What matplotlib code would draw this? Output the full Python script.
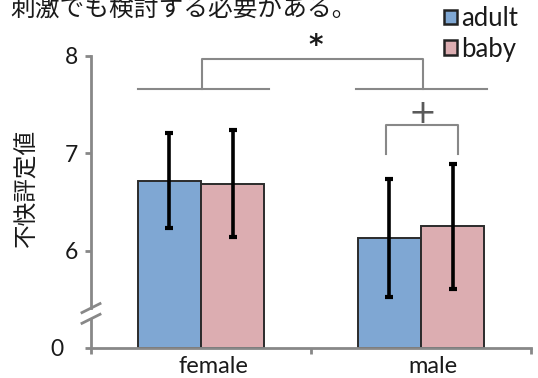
import numpy as np
import matplotlib
matplotlib.use('Agg')
import matplotlib.pyplot as plt
import matplotlib.transforms as mtransforms
from matplotlib.patches import Patch

plt.rcParams['font.family'] = ['Lato', 'Noto Sans CJK JP', 'DejaVu Sans']

# データ
groups = ['female', 'male']
series = ['adult', 'baby']
adult = [6.72, 6.13]
baby = [6.69, 6.25]
adult_err = [0.49, 0.61]
baby_err = [0.55, 0.645]
ytick_vals = [5, 6, 7, 8]
ytick_labels = ['0', '6', '7', '8']
ylabel = '不快評定値'
caption = '刺激でも検討する必要がある。'

floor = 5.0   # 軸の切れ目より下は 0 として表示
bw = 0.287
c_adult = '#7fa7d3'
c_baby = '#dcadb1'
gray = '#888888'
txt = '#1a1a1a'

fig = plt.figure(figsize=(5.38, 3.78), dpi=100)
ax = fig.add_axes([91/538, 30/378, 440/538, 292/378])

x = np.arange(len(groups))
ax.bar(x - bw/2, np.array(adult) - floor, bw, bottom=floor, color=c_adult,
       edgecolor='#2b2b2b', lw=1.4, zorder=2)
ax.bar(x + bw/2, np.array(baby) - floor, bw, bottom=floor, color=c_baby,
       edgecolor='#2b2b2b', lw=1.4, zorder=2)
ax.errorbar(x - bw/2, adult, yerr=adult_err, fmt='none', ecolor='black',
            elinewidth=2.6, capsize=3.2, capthick=3, zorder=3)
ax.errorbar(x + bw/2, baby, yerr=baby_err, fmt='none', ecolor='black',
            elinewidth=2.6, capsize=3.2, capthick=3, zorder=3)

ax.set_xlim(-0.5, 1.5)
ax.set_ylim(floor, 8)

# 軸
for s in ['top', 'right', 'left']:
    ax.spines[s].set_visible(False)
ax.spines['bottom'].set_color(gray)
ax.spines['bottom'].set_linewidth(2)
ax.spines['bottom'].set_zorder(4)

yt = ax.get_yaxis_transform()
ax.plot([0, 0], [floor, 5.30], color=gray, lw=2, transform=yt, clip_on=False, zorder=4)
ax.plot([0, 0], [5.41, 8], color=gray, lw=2, transform=yt, clip_on=False, zorder=4)
for yc in [5.30, 5.41]:
    ya = (yc - floor) / 3
    ax.plot([-0.0205, 0.0205], [ya - 0.0154, ya + 0.0154], color=gray, lw=2,
            transform=ax.transAxes, clip_on=False, zorder=4)

ax.set_yticks(ytick_vals, ytick_labels)
ax.tick_params(axis='y', length=4, width=2, color=gray, pad=5,
               labelsize=16.5, labelcolor=txt)
t0 = ax.yaxis.get_major_ticks()[0]
t0.label1.set_transform(t0.label1.get_transform() +
                        mtransforms.ScaledTranslation(-0.15, 0, fig.dpi_scale_trans))

ax.set_xticks([-0.5, 0.5, 1.5], ['', '', ''])
ax.set_xticks(x, groups, minor=True)
ax.tick_params(axis='x', which='major', length=4, width=2, color=gray)
ax.tick_params(axis='x', which='minor', length=0, pad=6, labelsize=17, labelcolor=txt)
for lab in ax.get_xticklabels(minor=True):
    lab.set_transform(lab.get_transform() +
                      mtransforms.ScaledTranslation(0.12, 0, fig.dpi_scale_trans))

# 有意差の括弧
ax.plot([0.84, 0.84, 1.17, 1.17], [6.99, 7.29, 7.29, 6.99], color=gray, lw=1.5, clip_on=False)
ax.text(1.008, 7.41, '+', fontsize=24, color='#5a5a5a', ha='center', va='center',
        family='DejaVu Sans')
ax.plot([0.005, 0.005, 1.009, 1.009], [7.66, 7.967, 7.967, 7.66], color=gray, lw=1.5, clip_on=False)
ax.plot([-0.286, 0.309], [7.66, 7.66], color=gray, lw=1.5, clip_on=False)
ax.plot([0.705, 1.30], [7.66, 7.66], color=gray, lw=1.5, clip_on=False)
ax.text(0.523, 8.10, '*', fontsize=20, color=txt, ha='center', va='center',
        fontweight='bold', family='DejaVu Sans', clip_on=False)

fig.text(27/538, 1 - 188/378, ylabel, rotation=90, fontsize=17, color=txt,
         ha='center', va='center', family=['Noto Sans CJK JP'])
fig.text(10/538, 1 - 9/378, caption, fontsize=17.8, color=txt,
         ha='left', va='center', family=['Noto Sans CJK JP'])

handles = [Patch(facecolor=c_adult, edgecolor='#222222', lw=1.8),
           Patch(facecolor=c_baby, edgecolor='#222222', lw=1.8)]
fig.legend(handles, series, loc='upper left', bbox_to_anchor=(444/538, 1 - 6/378),
           frameon=False, fontsize=18.5, handlelength=0.5, handleheight=0.5,
           handletextpad=0.15, labelspacing=0.22, borderpad=0, borderaxespad=0,
           labelcolor=txt)

fig.savefig('out.png', dpi=100)
